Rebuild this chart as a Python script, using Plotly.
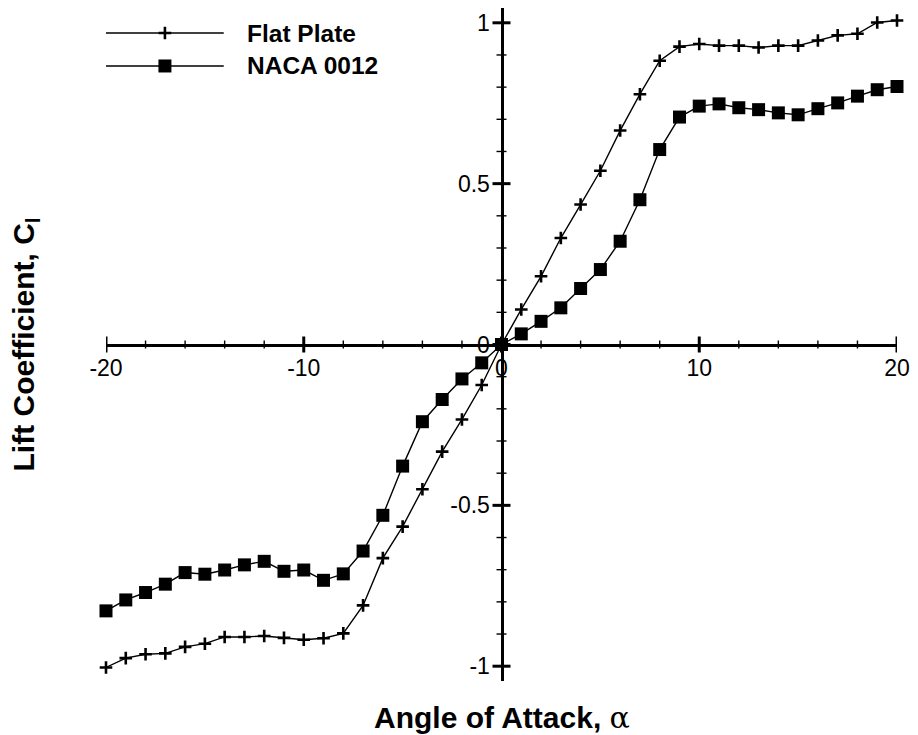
import plotly.graph_objects as go

# Angle of attack (degrees)
alpha = list(range(-20, 21))

# Lift coefficient, flat plate
cl_flat_plate = [
    -1.004, -0.975, -0.963, -0.960, -0.940, -0.930, -0.909, -0.909, -0.906, -0.912,
    -0.918, -0.913, -0.898, -0.811, -0.664, -0.566, -0.450, -0.333, -0.233, -0.126,
    0.000,
    0.109, 0.212, 0.331, 0.435, 0.540, 0.665, 0.778, 0.882, 0.926, 0.934,
    0.929, 0.929, 0.923, 0.929, 0.929, 0.945, 0.961, 0.966, 1.001, 1.007,
]

# Lift coefficient, NACA 0012
cl_naca0012 = [
    -0.828, -0.794, -0.771, -0.745, -0.709, -0.714, -0.701, -0.685, -0.674, -0.705,
    -0.701, -0.733, -0.713, -0.642, -0.531, -0.378, -0.240, -0.171, -0.107, -0.057,
    0.000,
    0.033, 0.072, 0.114, 0.174, 0.233, 0.321, 0.450, 0.606, 0.707, 0.741,
    0.748, 0.736, 0.730, 0.720, 0.714, 0.733, 0.751, 0.772, 0.792, 0.802,
]

series_names = ["Flat Plate", "NACA 0012"]

x_ticks = [-20, -10, 0, 10, 20]
x_tick_text = ["-20", "-10", "0", "10", "20"]
y_ticks = [-1, -0.5, 0, 0.5, 1]
y_tick_text = ["-1", "-0.5", "0", "0.5", "1"]
x_minor_ticks = [v for v in range(-20, 21, 2) if v % 10]
y_minor_ticks = [i / 10 for i in range(-10, 11) if i % 5]

FONT = "Liberation Sans, Arial, Helvetica, sans-serif"
BLACK = "black"

cross_marker = dict(symbol="cross-thin", size=9, color=BLACK,
                    line=dict(width=2.6, color=BLACK))
square_marker = dict(symbol="square", size=13, color=BLACK,
                     line=dict(width=0, color=BLACK))
line_style = dict(color=BLACK, width=1.4)

fig = go.Figure()

fig.add_trace(go.Scatter(
    x=alpha, y=cl_flat_plate, mode="lines+markers", name=series_names[0],
    line=line_style, marker=cross_marker, cliponaxis=False, showlegend=False,
))
fig.add_trace(go.Scatter(
    x=alpha, y=cl_naca0012, mode="lines+markers", name=series_names[1],
    line=line_style, marker=square_marker, cliponaxis=False, showlegend=False,
))

# Hand-drawn legend on its own small axis pair: a long line with the marker
# in the middle, one row per series.
legend_markers = [cross_marker, square_marker]
for row, (name, mk) in enumerate(zip(series_names, legend_markers)):
    fig.add_trace(go.Scatter(
        x=[0, 1], y=[row, row], mode="lines", line=line_style,
        xaxis="x3", yaxis="y3", hoverinfo="skip", showlegend=False,
        cliponaxis=False,
    ))
    fig.add_trace(go.Scatter(
        x=[0.5], y=[row], mode="markers", marker=mk,
        xaxis="x3", yaxis="y3", hoverinfo="skip", showlegend=False,
        cliponaxis=False,
    ))
    fig.add_annotation(
        x=1, y=row, xref="x3", yref="y3", text=f"<b>{name}</b>",
        showarrow=False, xanchor="left", yanchor="middle", xshift=21,
        font=dict(family=FONT, size=24.5, color=BLACK),
    )

# Tick marks that cross the axis lines (drawn as pixel-sized shapes
# anchored on the axes through the origin).
def x_tick(v, half, width):
    return dict(type="line", xref="x", yref="y", x0=v, x1=v,
                ysizemode="pixel", yanchor=0, y0=-half, y1=half,
                line=dict(color=BLACK, width=width), layer="above")


def y_tick(v, half, width):
    return dict(type="line", xref="x", yref="y", y0=v, y1=v,
                xsizemode="pixel", xanchor=0, x0=-half, x1=half,
                line=dict(color=BLACK, width=width), layer="above")


shapes = []
shapes += [x_tick(v, 8, 3) for v in x_ticks]
shapes += [x_tick(v, 4, 1.4) for v in x_minor_ticks]
shapes += [y_tick(v, 9, 3) for v in y_ticks]
shapes += [y_tick(v, 5, 1.4) for v in y_minor_ticks]

tick_font = dict(family=FONT, size=23, color=BLACK)

x_range = [-20, 20]
y_range = [-1.046, 1.046]

fig.update_layout(
    width=918, height=735,
    margin=dict(l=106, r=19, t=8, b=54),
    paper_bgcolor="white", plot_bgcolor="white",
    showlegend=False,
    shapes=shapes,
    xaxis=dict(
        range=x_range, anchor="free", position=0.5,
        showline=True, linewidth=3, linecolor=BLACK,
        showgrid=False, zeroline=False, ticks="",
        tickmode="array", tickvals=x_ticks, ticktext=x_tick_text,
        tickfont=tick_font, ticklabelstandoff=2,
    ),
    yaxis=dict(
        range=y_range, anchor="free", position=0.5,
        showline=True, linewidth=3, linecolor=BLACK,
        showgrid=False, zeroline=False, ticks="",
        tickmode="array", tickvals=y_ticks, ticktext=y_tick_text,
        tickfont=tick_font, ticklabelstandoff=6,
    ),
    xaxis3=dict(
        domain=[0, 0.149], range=[0, 1], anchor="y3",
        visible=False, fixedrange=True,
    ),
    yaxis3=dict(
        domain=[0.85, 1.0], range=[2.303, -0.758], anchor="x3",
        visible=False, fixedrange=True,
    ),
)

# Axis titles
fig.add_annotation(
    x=0.5, y=0, xref="paper", yref="paper", yshift=-36,
    text="<b>Angle of Attack,</b> <span style='font-family:DejaVu Serif'>α</span>",
    showarrow=False, xanchor="center", yanchor="middle",
    font=dict(family=FONT, size=30, color=BLACK),
)
fig.add_annotation(
    x=0, y=0.5, xref="paper", yref="paper", xshift=-81,
    text="<b>Lift Coefficient, C<sub>l</sub></b>",
    textangle=-90, showarrow=False, xanchor="center", yanchor="middle",
    font=dict(family=FONT, size=30, color=BLACK),
)

fig.write_html("out.html")
